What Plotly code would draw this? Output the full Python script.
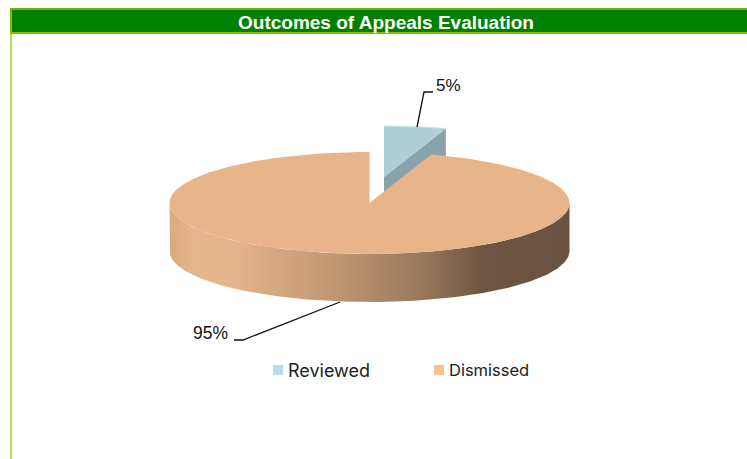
import numpy as np
import plotly.graph_objects as go

# ---- data ----
title = "Outcomes of Appeals Evaluation"
categories = ["Reviewed", "Dismissed"]
values = [5, 95]
legend_colors = ["#B7DDE8", "#FAC090"]

# ---- pie geometry in page pixels ----
W, H = 747, 459
CX, CY, RX, RY, DEPTH = 369.5, 203, 200, 51, 48
EXPLODE_X, EXPLODE_Y = 14.5, -26

total = sum(values)
sweep = 360.0 * values[0] / total


def rim(deg, dx=0.0, dy=0.0):
    a = np.radians(np.asarray(deg, dtype=float))
    return CX + dx + RX * np.sin(a), CY + dy - RY * np.cos(a)


def poly(x, y, color, **kw):
    return go.Scatter(x=list(x), y=list(y), mode="lines", fill="toself", fillcolor=color,
                      line=dict(width=0, color=color), hoverinfo="skip", showlegend=False, **kw)


fig = go.Figure()

# exploded slice (Reviewed)
a0 = np.linspace(0, sweep, 30)
rx0, ry0 = rim(a0, EXPLODE_X, EXPLODE_Y)
ax, ay = CX + EXPLODE_X, CY + EXPLODE_Y
end_x, end_y = rim(sweep, EXPLODE_X, EXPLODE_Y)
fig.add_trace(poly([ax, end_x, end_x, ax, ax], [ay, end_y, end_y + DEPTH, ay + DEPTH, ay], "#88A3AB"))
fig.add_trace(poly(np.r_[ax, rx0, ax], np.r_[ay, ry0, ay], "#AFCFD7"))
fig.add_trace(go.Scatter(x=rx0, y=ry0, mode="lines", line=dict(color="#D3E4E9", width=1),
                         hoverinfo="skip", showlegend=False))

# side wall of the large slice with the horizontal shading
a1 = np.linspace(90, 270, 181)
ux, uy = rim(a1)
lx, ly = rim(a1[::-1], 0, DEPTH)
grad = [[0.0, "#D8AA80"], [0.06, "#E6B58B"], [0.16, "#E5B48A"], [0.42, "#BE9672"],
        [0.64, "#98775B"], [0.78, "#6F5540"], [1.0, "#6A5240"]]
fig.add_trace(go.Scatter(x=np.r_[ux, lx, ux[0]], y=np.r_[uy, ly, uy[0]], mode="lines", fill="toself",
                         line=dict(width=0),
                         fillgradient=dict(type="horizontal", colorscale=grad,
                                           start=CX - RX, stop=CX + RX),
                         hoverinfo="skip", showlegend=False))

# top face of the large slice
a2 = np.linspace(sweep, 360, 360)
tx, ty = rim(a2)
fig.add_trace(poly(np.r_[CX, tx, CX], np.r_[CY, ty, CY], "#E8B58A"))

# leader lines
fig.add_trace(go.Scatter(x=[417, 424, 433], y=[127, 92, 92], mode="lines",
                         line=dict(color="#111111", width=1.3), hoverinfo="skip", showlegend=False))
fig.add_trace(go.Scatter(x=[340, 243, 234], y=[302, 340, 340], mode="lines",
                         line=dict(color="#111111", width=1.3), hoverinfo="skip", showlegend=False))

# legend
legend_swatch_x = [278, 439]
legend_text_x = [285.5, 447]
legend_text_size = [18, 16.5]
fig.add_trace(go.Scatter(x=legend_swatch_x, y=[370, 370], mode="markers",
                         marker=dict(symbol="square", size=10, color=legend_colors, line=dict(width=0)),
                         hoverinfo="skip", showlegend=False))

shapes = [
    dict(type="rect", x0=11, x1=W, y0=9, y1=33, fillcolor="#008000", line=dict(width=0)),
    dict(type="rect", x0=10, x1=W, y0=8, y1=10, fillcolor="#6FB000", line=dict(width=0)),
    dict(type="rect", x0=10, x1=W, y0=32, y1=34, fillcolor="#80C000", line=dict(width=0)),
    dict(type="rect", x0=10, x1=12, y0=10, y1=32, fillcolor="#80C000", line=dict(width=0)),
    dict(type="rect", x0=10, x1=12, y0=34, y1=H, fillcolor="#B5E04E", line=dict(width=0)),
]

annotations = [
    dict(x=386, y=22, text=f"<b>{title}</b>", showarrow=False, xanchor="center", yanchor="middle",
         font=dict(family="Liberation Sans", size=19, color="white")),
    dict(x=434, y=85, text=f"{values[0]}%", showarrow=False, xanchor="left", yanchor="middle",
         font=dict(family="Liberation Sans", size=17, color="#111111")),
    dict(x=191, y=333, text=f"{values[1]}%", showarrow=False, xanchor="left", yanchor="middle",
         font=dict(family="Liberation Sans", size=17.5, color="#111111")),
]
for name, xpos, fs in zip(categories, legend_text_x, legend_text_size):
    annotations.append(dict(x=xpos, y=370, text=name, showarrow=False, xanchor="left", yanchor="middle",
                            font=dict(family="Inter", size=fs, color="#222222")))

fig.update_layout(
    width=W, height=H, margin=dict(l=0, r=0, t=0, b=0), autosize=False,
    paper_bgcolor="white", plot_bgcolor="white", showlegend=False,
    xaxis=dict(range=[0, W], visible=False, fixedrange=True),
    yaxis=dict(range=[H, 0], visible=False, fixedrange=True),
    shapes=shapes, annotations=annotations,
)
fig.write_html("out.html", config=dict(displayModeBar=False),
               post_script="document.body.style.margin='0';document.body.style.overflow='hidden';")
